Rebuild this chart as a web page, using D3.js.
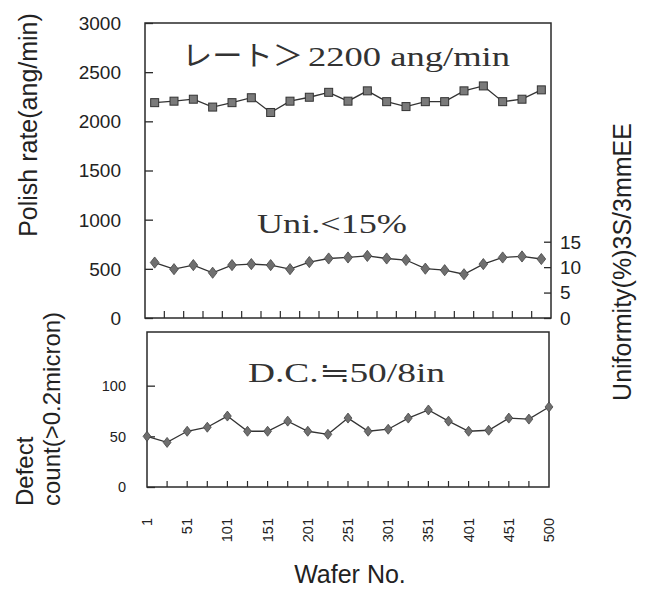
<!DOCTYPE html>
<html><head><meta charset="utf-8">
<script src="https://cdn.jsdelivr.net/npm/d3@7"></script>
<style>
body{margin:0;background:#fff;}
svg{display:block;}
.sans{font-family:"Liberation Sans",Arial,sans-serif;fill:#222;}
.serif{font-family:"Liberation Serif","Noto Sans CJK JP",serif;fill:#333;}
</style></head>
<body><svg id="c" width="650" height="590"></svg>
<script>
// ---------- data ----------
const wafers = [1,26,51,76,101,126,151,176,201,226,251,276,301,326,351,376,401,426,451,476,500];
const xLabels = ["1","51","101","151","201","251","301","351","401","451","500"];
const polishRate = [2190,2205,2225,2145,2190,2240,2090,2205,2245,2295,2205,2310,2200,2150,2200,2200,2310,2360,2200,2225,2320];
const uniformity = [10.9,9.6,10.4,8.9,10.4,10.6,10.4,9.6,11.0,11.7,11.9,12.2,11.7,11.4,9.7,9.4,8.6,10.6,11.9,12.1,11.6];
const defects = [50,44,55,59,70,55,55,65,55,52,68,55,57,68,76,65,55,56,68,67,79];
const rateTicks = [0,500,1000,1500,2000,2500,3000];
const uniTicks = [0,5,10,15];
const defTicks = [0,50,100];

const svg = d3.select("#c");
const ink = "#2a2a2a";

// ---------- top panel ----------
const T = {l:145, r:551, t:23, b:318};
const xTop = d3.scaleBand().domain(wafers).range([T.l, T.r]);
const yRate = d3.scaleLinear().domain([0,3000]).range([T.b, T.t]);
const yUni = d3.scaleLinear().domain([0,58]).range([T.b, T.t]);

svg.append("rect").attr("x",T.l).attr("y",T.t).attr("width",T.r-T.l).attr("height",T.b-T.t)
  .attr("fill","none").attr("stroke",ink).attr("stroke-width",1.5);

// left axis
const gL = svg.append("g").attr("transform",`translate(${T.l},0)`)
  .call(d3.axisRight(yRate).tickValues(rateTicks).tickSize(8).tickFormat(""));
gL.select(".domain").remove();
gL.selectAll("line").attr("stroke",ink).attr("stroke-width",1.3);
svg.append("g").selectAll("text").data(rateTicks).join("text").attr("class","sans")
  .attr("x",121).attr("y",d=>yRate(d)).attr("dy","0.36em").attr("text-anchor","end")
  .attr("font-size",19).text(d=>d);

// right axis
const gR = svg.append("g").attr("transform",`translate(${T.r},0)`)
  .call(d3.axisLeft(yUni).tickValues(uniTicks).tickSize(7).tickFormat(""));
gR.select(".domain").remove();
gR.selectAll("line").attr("stroke",ink).attr("stroke-width",1.3);
svg.append("g").selectAll("text").data(uniTicks).join("text").attr("class","sans")
  .attr("x",560).attr("y",d=>yUni(d)).attr("dy","0.36em").attr("text-anchor","start")
  .attr("font-size",19).text(d=>d);

// x ticks (band boundaries)
const topBounds = wafers.slice(1).map(w=>xTop(w));
svg.append("g").selectAll("line").data(topBounds).join("line")
  .attr("x1",d=>d).attr("x2",d=>d).attr("y1",T.b).attr("y2",T.b-7)
  .attr("stroke",ink).attr("stroke-width",1.2);

const cx = w => xTop(w)+xTop.bandwidth()/2;

// polish rate line
svg.append("path").datum(polishRate.map((v,i)=>[cx(wafers[i]),yRate(v)]))
  .attr("d",d3.line()).attr("fill","none").attr("stroke","#333").attr("stroke-width",1.3);
svg.append("g").selectAll("rect").data(polishRate).join("rect")
  .attr("x",(d,i)=>cx(wafers[i])-4).attr("y",d=>yRate(d)-4).attr("width",8).attr("height",8)
  .attr("fill","#7a7a7a").attr("stroke","#333").attr("stroke-width",1);

// uniformity line
svg.append("path").datum(uniformity.map((v,i)=>[cx(wafers[i]),yUni(v)]))
  .attr("d",d3.line()).attr("fill","none").attr("stroke","#333").attr("stroke-width",1.3);
svg.append("g").selectAll("path.m").data(uniformity).join("path").attr("class","m")
  .attr("d",d3.symbol(d3.symbolDiamond, 50))
  .attr("transform",(d,i)=>`translate(${cx(wafers[i])},${yUni(d)}) scale(1.15,0.85)`)
  .attr("fill","#6f6f6f").attr("stroke","#444").attr("stroke-width",0.8);

// ---------- bottom panel ----------
const B = {l:147, r:549, t:332, b:487};
const xBot = d3.scalePoint().domain(wafers).range([B.l, B.r]);
const yDef = d3.scaleLinear().domain([0,150]).range([B.b, B.t+3]);

svg.append("rect").attr("x",B.l).attr("y",B.t).attr("width",B.r-B.l).attr("height",B.b-B.t)
  .attr("fill","none").attr("stroke",ink).attr("stroke-width",1.5);

const gB = svg.append("g").attr("transform",`translate(${B.l},0)`)
  .call(d3.axisRight(yDef).tickValues(defTicks).tickSize(8).tickFormat(""));
gB.select(".domain").remove();
gB.selectAll("line").attr("stroke",ink).attr("stroke-width",1.3);
svg.append("g").selectAll("text").data(defTicks).join("text").attr("class","sans")
  .attr("x",126).attr("y",d=>yDef(d)).attr("dy","0.36em").attr("text-anchor","end")
  .attr("font-size",14.5).text(d=>d);

svg.append("g").selectAll("line").data(wafers.slice(1,-1)).join("line")
  .attr("x1",d=>xBot(d)).attr("x2",d=>xBot(d)).attr("y1",B.b).attr("y2",B.b-6)
  .attr("stroke",ink).attr("stroke-width",1.2);

svg.append("path").datum(defects.map((v,i)=>[xBot(wafers[i]),yDef(v)]))
  .attr("d",d3.line()).attr("fill","none").attr("stroke","#333").attr("stroke-width",1.3);
svg.append("g").selectAll("path.d").data(defects).join("path").attr("class","d")
  .attr("d",d3.symbol(d3.symbolDiamond, 40))
  .attr("transform",(d,i)=>`translate(${xBot(wafers[i])},${yDef(d)}) scale(1.15,0.85)`)
  .attr("fill","#6f6f6f").attr("stroke","#444").attr("stroke-width",0.8);

// x tick labels (every other wafer)
const labelled = wafers.filter((w,i)=>i%2===0);
svg.append("g").selectAll("text").data(labelled).join("text").attr("class","sans")
  .attr("transform",(d,i)=>`translate(${xBot(d)+5},518) rotate(-90)`)
  .attr("text-anchor","end").attr("font-size",14.5).text((d,i)=>xLabels[i]);

// ---------- titles ----------
svg.append("text").attr("class","sans").attr("font-size",25)
  .attr("transform","translate(37,125) rotate(-90)").attr("text-anchor","middle")
  .text("Polish rate(ang/min)");
svg.append("text").attr("class","sans").attr("font-size",24)
  .attr("transform","translate(33,506) rotate(-90)").attr("text-anchor","start")
  .text("Defect");
svg.append("text").attr("class","sans").attr("font-size",24)
  .attr("transform","translate(60,506) rotate(-90)").attr("text-anchor","start")
  .text("count(>0.2micron)");
svg.append("text").attr("class","sans").attr("font-size",25)
  .attr("transform","translate(631,262) rotate(-90)").attr("text-anchor","middle")
  .text("Uniformity(%)3S/3mmEE");
svg.append("text").attr("class","sans").attr("font-size",25)
  .attr("x",350).attr("y",583).attr("text-anchor","middle").text("Wafer No.");

// ---------- annotations ----------
svg.append("text").attr("class","serif").attr("font-size",28)
  .attr("x",182).attr("y",66).attr("textLength",121).attr("lengthAdjust","spacingAndGlyphs")
  .text("レート＞");
svg.append("text").attr("class","serif").attr("font-size",28)
  .attr("x",308).attr("y",66).attr("textLength",202).attr("lengthAdjust","spacingAndGlyphs")
  .text("2200 ang/min");
svg.append("text").attr("class","serif").attr("font-size",28)
  .attr("x",257).attr("y",233).attr("textLength",150).attr("lengthAdjust","spacingAndGlyphs")
  .text("Uni.<15%");
svg.append("text").attr("class","serif").attr("font-size",28)
  .attr("x",248).attr("y",382).attr("textLength",197).attr("lengthAdjust","spacingAndGlyphs")
  .text("D.C.≒50/8in");
</script></body></html>
